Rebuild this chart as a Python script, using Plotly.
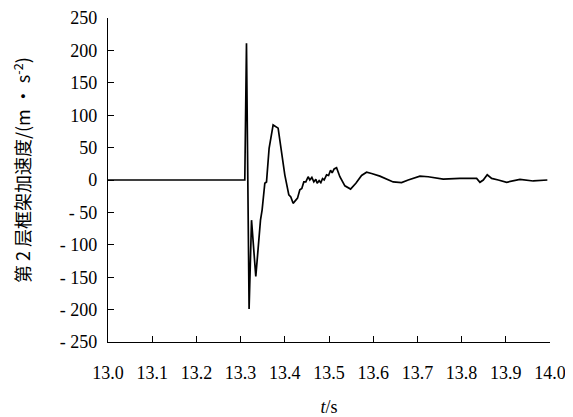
import plotly.graph_objects as go

# time (s) and 2nd-floor frame acceleration (m/s^2)
t = [13.0, 13.1, 13.2, 13.3, 13.3095, 13.3133, 13.3192, 13.3247, 13.3344, 13.345,
     13.3487, 13.3548, 13.3586, 13.3645, 13.3736, 13.3849, 13.3926, 13.4000, 13.4091,
     13.4136, 13.4188, 13.4243, 13.4288, 13.434, 13.4385, 13.443, 13.4476, 13.4528,
     13.4566, 13.4612, 13.4657, 13.4702, 13.4732, 13.4777, 13.4815, 13.4854, 13.489,
     13.4945, 13.499, 13.5035, 13.5071, 13.5117, 13.5171, 13.5246, 13.5359, 13.5488,
     13.5608, 13.5737, 13.585, 13.5963, 13.6151, 13.6452, 13.6642, 13.6792, 13.7057,
     13.7245, 13.7584, 13.7962, 13.834, 13.8415, 13.849, 13.858, 13.868, 13.883,
     13.902, 13.932, 13.962, 13.994]
acc = [0, 0, 0, 0, 0, 211, -199, -62, -149, -62,
       -46, -5, -3, 49, 85, 80, 44, 8, -23,
       -26, -36, -31, -28, -15, -13, -3, -3, 5,
       0, 4, -3, 1, -5, -1, -4, 2, 0,
       8, 7, 15, 11, 17, 19, 5, -9, -14,
       -5, 7, 12, 10, 6, -3, -4, 0, 6,
       5, 1.5, 2.5, 2.5, -3.5, 0, 8, 2.5, 0,
       -3.5, 1, -1.5, 0]

x_ticks = [13.0, 13.1, 13.2, 13.3, 13.4, 13.5, 13.6, 13.7, 13.8, 13.9, 14.0]
x_labels = ["13.0", "13.1", "13.2", "13.3", "13.4", "13.5", "13.6", "13.7", "13.8", "13.9", "14.0"]
y_ticks = [250, 200, 150, 100, 50, 0, -50, -100, -150, -200, -250]
y_labels = ["250", "200", "150", "100", "50", "0", "- 50", "- 100", "- 150", "- 200", "- 250"]
y_title = "第 2 层框架加速度/(m · s<sup>-2</sup>)"
x_title = "<i>t</i>/s"

serif = "Liberation Serif"

fig = go.Figure()
fig.add_trace(go.Scatter(x=t, y=acc, mode="lines",
                         line=dict(color="black", width=1.7), showlegend=False))

# page body has an 8px margin: figure is sized/offset to compensate
fig.update_layout(
    width=565, height=409,
    margin=dict(l=100, r=23, t=10, b=75, autoexpand=False),
    paper_bgcolor="white", plot_bgcolor="white",
    font=dict(family=serif, size=18, color="black"),
)
fig.update_xaxes(
    range=[13.0, 14.0], tickvals=x_ticks, ticktext=x_labels,
    showline=True, linecolor="black", linewidth=1.2,
    ticks="inside", ticklen=6, tickwidth=1, tickcolor="black",
    showgrid=False, zeroline=False, ticklabelstandoff=14, automargin=False,
    tickfont=dict(family=serif, size=18),
    title=dict(text=x_title, font=dict(family=serif, size=18), standoff=22),
)
fig.update_yaxes(
    range=[-250, 250], tickvals=y_ticks, ticktext=y_labels,
    showline=True, linecolor="black", linewidth=1.2,
    ticks="inside", ticklen=6, tickwidth=1, tickcolor="black",
    showgrid=False, zeroline=False, ticklabelstandoff=6, automargin=False,
    tickfont=dict(family=serif, size=18),
)
fig.add_annotation(
    text=y_title, textangle=-90, showarrow=False,
    xref="paper", yref="paper", x=-0.195, y=0.53,
    xanchor="center", yanchor="middle",
    font=dict(family="Noto Sans CJK SC", size=18, color="black"),
)

fig.write_html("out.html")
